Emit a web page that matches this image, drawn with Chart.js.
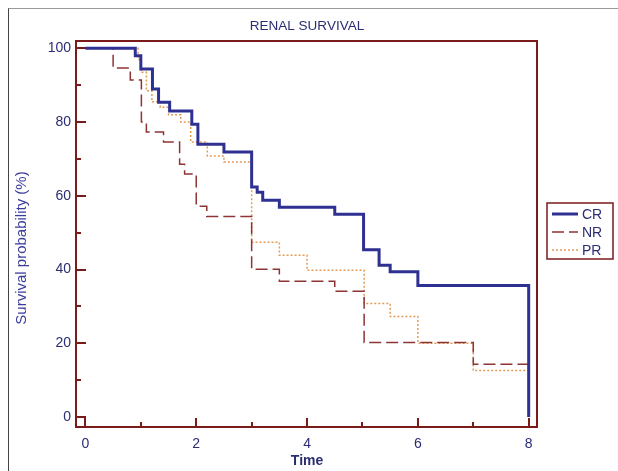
<!DOCTYPE html>
<html lang="en">
<head>
<meta charset="UTF-8" />
<title>Renal survival</title>
<script src="https://cdn.jsdelivr.net/npm/chart.js"></script>
<style>
  html, body { margin: 0; padding: 0; background: #fff; }
  #wrap { position: relative; width: 618px; height: 471px; overflow: hidden; }
  #edge { position: absolute; left: 8px; top: 8px; width: 620px; height: 470px; border-left: 1px solid #444; border-top: 1px solid #999; }
  canvas { position: absolute; left: 0; top: 0; }
</style>
</head>
<body>
<div id="wrap">
  <div id="edge"></div>
  <canvas id="km" width="618" height="471"></canvas>
</div>
<script>
  // Kaplan-Meier steps (time, survival % after the event)
  const crTime = [0, 0.9, 1.0, 1.21, 1.32, 1.52, 1.92, 2.03, 2.5, 3.0, 3.1, 3.2, 3.5, 4.5, 5.02, 5.3, 5.5, 6.0, 8.0];
  const crSurv = [100, 98, 94.4, 89, 85.4, 83, 79.4, 74, 71.9, 62.4, 61, 58.8, 56.9, 55, 45.4, 41.2, 39.4, 35.7, 0];

  const nrTime = [0, 0.5, 0.81, 1.01, 1.1, 1.41, 1.7, 1.79, 2.0, 2.19, 3.0, 3.5, 4.5, 5.03, 7.0, 8.0];
  const nrSurv = [100, 94.7, 91.4, 80, 77.3, 74.6, 68.6, 65.9, 57.2, 54.4, 40.1, 36.8, 34.1, 20.2, 14.3, 14.3];

  const prTime = [0, 0.95, 1.0, 1.1, 1.2, 1.35, 1.5, 1.72, 1.9, 2.2, 2.5, 3.0, 3.5, 4.0, 5.03, 5.5, 6.0, 7.0, 8.0];
  const prSurv = [100, 97, 93.5, 88.5, 85.5, 84, 82, 80, 74.6, 70.8, 69.2, 47.4, 43.9, 39.8, 30.8, 27.3, 20, 12.6, 0];

  const xTicks = [0, 2, 4, 6, 8];
  const xMinor = [1, 3, 5, 7];
  const yTicks = [0, 20, 40, 60, 80, 100];
  const yMinor = [10, 30, 50, 70, 90];

  const seriesNames = ['CR', 'NR', 'PR'];

  const FONT = '"Liberation Sans", Arial, sans-serif';
  const navy = '#2b2d72';
  const frameColor = '#7a1a1a';

  const toPoints = (t, s) => t.map((v, i) => ({ x: v, y: s[i] }));

  // frame, inward tick marks, titles and the boxed legend
  const decor = {
    id: 'decor',
    afterDatasetsDraw(chart) {
      const { ctx, chartArea: a, scales: { x, y } } = chart;
      ctx.save();
      ctx.strokeStyle = frameColor;
      ctx.lineWidth = 2;
      ctx.strokeRect(a.left, a.top, a.right - a.left, a.bottom - a.top);
      ctx.beginPath();
      yTicks.forEach(v => { const p = Math.round(y.getPixelForValue(v)); ctx.moveTo(a.left, p); ctx.lineTo(a.left + 10, p); });
      yMinor.forEach(v => { const p = Math.round(y.getPixelForValue(v)); ctx.moveTo(a.left, p); ctx.lineTo(a.left + 5, p); });
      xTicks.forEach(v => { const p = Math.round(x.getPixelForValue(v)); ctx.moveTo(p, a.bottom); ctx.lineTo(p, a.bottom - 9); });
      xMinor.forEach(v => { const p = Math.round(x.getPixelForValue(v)); ctx.moveTo(p, a.bottom); ctx.lineTo(p, a.bottom - 5); });
      ctx.stroke();

      // titles
      ctx.fillStyle = navy;
      ctx.textAlign = 'center';
      ctx.textBaseline = 'middle';
      ctx.font = '13.5px ' + FONT;
      ctx.fillText('RENAL SURVIVAL', 307, 26);
      ctx.font = 'bold 14px ' + FONT;
      ctx.fillText('Time', (x.getPixelForValue(4)), 461);
      ctx.save();
      ctx.translate(22, 248);
      ctx.rotate(-Math.PI / 2);
      ctx.font = '15px ' + FONT;
      ctx.fillStyle = '#3a3d9a';
      ctx.fillText('Survival probability (%)', 0, 0);
      ctx.restore();

      // legend
      ctx.strokeStyle = frameColor;
      ctx.lineWidth = 1.5;
      ctx.strokeRect(547, 203, 66, 56);
      chart.data.datasets.forEach((ds, i) => {
        const ly = 214 + i * 18;
        ctx.beginPath();
        ctx.strokeStyle = ds.borderColor;
        ctx.lineWidth = ds.borderWidth;
        ctx.setLineDash(ds.borderDash || []);
        ctx.moveTo(552, ly);
        ctx.lineTo(578, ly);
        ctx.stroke();
        ctx.setLineDash([]);
        ctx.fillStyle = navy;
        ctx.textAlign = 'left';
        ctx.font = '14px ' + FONT;
        ctx.fillText(ds.label, 582, ly + 1);
      });
      ctx.restore();
    }
  };

  new Chart(document.getElementById('km'), {
    type: 'line',
    data: {
      datasets: [
        { label: seriesNames[0], data: toPoints(crTime, crSurv), borderColor: '#2e3192', borderWidth: 3, stepped: 'before', pointRadius: 0, fill: false },
        { label: seriesNames[1], data: toPoints(nrTime, nrSurv), borderColor: '#8e3434', borderWidth: 1.5, borderDash: [12, 5], stepped: 'before', pointRadius: 0, fill: false },
        { label: seriesNames[2], data: toPoints(prTime, prSurv), borderColor: '#e39a55', borderWidth: 1.5, borderDash: [2, 2], stepped: 'before', pointRadius: 0, fill: false }
      ]
    },
    options: {
      responsive: false,
      animation: false,
      layout: { padding: { top: 41, right: 81, left: 0, bottom: 0 } },
      plugins: { legend: { display: false }, tooltip: { enabled: false }, title: { display: false } },
      scales: {
        x: {
          type: 'linear', min: -0.17, max: 8.15,
          afterFit: s => { s.height = 44; },
          afterBuildTicks: s => { s.ticks = xTicks.map(v => ({ value: v })); },
          grid: { display: false, drawTicks: false },
          border: { display: false },
          ticks: { padding: 9, color: navy, font: { family: FONT, size: 14 } }
        },
        y: {
          type: 'linear', min: -2.7, max: 102,
          afterFit: s => { s.width = 76; },
          afterBuildTicks: s => { s.ticks = yTicks.map(v => ({ value: v })); },
          grid: { display: false, drawTicks: false },
          border: { display: false },
          ticks: { padding: 5, color: navy, font: { family: FONT, size: 14 } }
        }
      }
    },
    plugins: [decor]
  });
</script>
</body>
</html>
